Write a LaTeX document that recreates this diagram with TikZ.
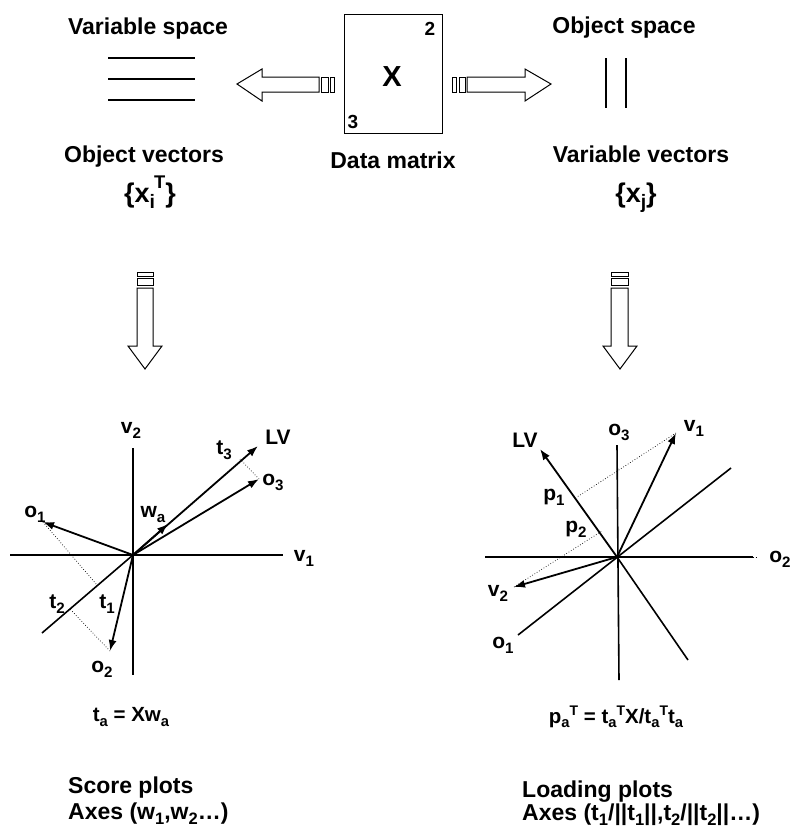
\documentclass[tikz,border=0pt]{standalone}
\usepackage{fontspec}
\setmainfont{Liberation Sans}
\usetikzlibrary{arrows.meta}
\newcommand\lo[1]{\raisebox{-0.45ex}{\scalebox{0.72}{#1}}}
\newcommand\hi[1]{\raisebox{0.7ex}{\scalebox{0.68}{#1}}}
\begin{document}
\begin{tikzpicture}[x=1pt,y=-1pt,
  head/.style={font=\fontsize{23}{27}\selectfont\bfseries},
  lab/.style={font=\fontsize{21}{24}\selectfont\bfseries, inner sep=0pt},
  formula/.style={font=\fontsize{20.5}{24}\selectfont\bfseries, inner sep=0pt},
  axis/.style={line width=1.6pt},
  vec/.style={line width=1.8pt, -{Latex[length=11pt,width=8pt]}},
  proj/.style={line width=0.7pt, dotted},
  blockarrow/.style={line width=1pt, fill=white},
  thin line/.style={line width=1.6pt}]
\useasboundingbox (0,0) rectangle (790,828);

% ---------- top row ----------
\node[head, anchor=base] (vs) at (148,34) {Variable space};
\node[head, anchor=base] (os) at (624,33) {Object space};
\node[head, anchor=base] (ov) at (144,162) {Object vectors};
\node[head, anchor=base] (vv) at (641,162) {Variable vectors};
\node[font=\fontsize{27}{30}\selectfont\bfseries, anchor=base] (xi) at (150,202) {\{x\lo{i}\hspace{-1pt}\raisebox{0.95ex}{\scalebox{0.68}{T}}\}};
\node[font=\fontsize{27}{30}\selectfont\bfseries, anchor=base] (xj) at (636,202) {\{x\lo{j}\}};

\draw[thin line] (108,58) -- (195,58) (108,79) -- (195,79) (108,100) -- (195,100);
\draw[thin line] (606,58) -- (606,108) (626,58) -- (626,108);

% data matrix
\node[draw, line width=1.3pt, minimum width=98pt, minimum height=119pt, anchor=north west, inner sep=0pt] (box) at (344,14) {};
\node[font=\fontsize{29}{32}\selectfont\bfseries] (X) at (392,77) {X};
\node[font=\fontsize{19}{20}\selectfont\bfseries, inner sep=0pt] (n2) at (430,29) {2};
\node[font=\fontsize{19}{20}\selectfont\bfseries, inner sep=0pt] (n3) at (353,122) {3};
\node[head, anchor=base] (dm) at (393,168) {Data matrix};

% left block arrow
\draw[blockarrow] (237,84) -- (262,69) -- (262,77) -- (319,77) -- (319,92) -- (262,92) -- (262,101) -- cycle;
\draw[blockarrow] (321,77) rectangle (328,92);
\draw[blockarrow] (330,77) rectangle (334,92);
% right block arrow
\draw[blockarrow] (551,84) -- (525,69) -- (525,77) -- (467,77) -- (467,92) -- (525,92) -- (525,101) -- cycle;
\draw[blockarrow] (459,77) rectangle (465,92);
\draw[blockarrow] (452,77) rectangle (456,92);

% down block arrows
\draw[blockarrow] (145,369) -- (128,346) -- (137,346) -- (137,288) -- (153,288) -- (153,346) -- (162,346) -- cycle;
\draw[blockarrow] (137,278) rectangle (153,285);
\draw[blockarrow] (137,272) rectangle (153,276);
\draw[blockarrow] (620,369) -- (603,346) -- (611,346) -- (611,288) -- (628,288) -- (628,346) -- (637,346) -- cycle;
\draw[blockarrow] (611,278) rectangle (628,285);
\draw[blockarrow] (611,272) rectangle (628,276);

% ---------- score plot ----------
\coordinate (O) at (133,555);
\coordinate (ax1a) at (10,555);  \coordinate (ax1b) at (283,555);
\coordinate (ax2a) at (133,448); \coordinate (ax2b) at (133,675);
\coordinate (lvlow) at (42,633); \coordinate (lvtip) at (258,446);
\coordinate (o1) at (43,522);
\coordinate (wa) at (168,524);
\coordinate (o3) at (259,479);
\coordinate (o2) at (110,651);
\coordinate (pr1) at (97,585);
\coordinate (pr2) at (70,609);
\coordinate (pr3) at (240,459);

\draw[axis] (ax1a) -- (ax1b);
\draw[axis] (ax2a) -- (ax2b);
\draw[axis] (lvlow) -- (O);
\draw[vec] (O) -- (lvtip);
\draw[vec] (O) -- (o1);
\draw[vec] (O) -- (wa);
\draw[vec] (O) -- (o3);
\draw[vec] (O) -- (o2);
\draw[proj] (o1) -- (pr1);
\draw[proj] (o2) -- (pr2);
\draw[proj] (o3) -- (pr3);

\node[lab] (lv2) at (131,430) {v\lo{2}};
\node[lab] (lv1) at (304,558) {v\lo{1}};
\node[lab] (lLV) at (278,437) {LV};
\node[lab] (lt3) at (224,450) {t\lo{3}};
\node[lab] (lo3) at (273,482) {o\lo{3}};
\node[lab] (lo1) at (35,514) {o\lo{1}};
\node[lab] (lwa) at (153,515) {w\lo{a}};
\node[lab] (lt2) at (57,604) {t\lo{2}};
\node[lab] (lt1) at (107,604) {t\lo{1}};
\node[lab] (lo2) at (102,669) {o\lo{2}};

\node[formula] (f1) at (131,717) {t\lo{a} = Xw\lo{a}};
\node[head, anchor=base west, inner sep=0pt] (sp) at (68,793) {Score plots};
\node[head, anchor=base west, inner sep=0pt] (sa) at (68,819) {Axes (w\lo{1},w\lo{2}…)};

% ---------- loading plot ----------
\coordinate (P) at (617,557);
\coordinate (bx1a) at (485,557); \coordinate (bx1b) at (753,557); \coordinate (bx1c) at (757,557);
\coordinate (bx2a) at (617,445); \coordinate (bx2b) at (619,680);
\coordinate (bo1a) at (518,635); \coordinate (bo1b) at (731,468);
\coordinate (blvlow) at (688,660); \coordinate (blvtip) at (540,449);
\coordinate (v1) at (676,433);
\coordinate (v2) at (514,587);
\coordinate (pp1) at (577,497);
\coordinate (pp2) at (602,531);

\draw[axis] (bx1a) -- (bx1b);
\draw[proj] (bx1b) -- (bx1c);
\draw[axis] (bx2a) -- (bx2b);
\draw[axis] (bo1a) -- (bo1b);
\draw[axis] (blvlow) -- (P);
\draw[vec] (P) -- (blvtip);
\draw[vec] (P) -- (v1);
\draw[vec] (P) -- (v2);
\draw[proj] (v1) -- (pp1);
\draw[proj] (v2) -- (pp2);

\node[lab] (ro3) at (619,432) {o\lo{3}};
\node[lab] (rv1) at (694,428) {v\lo{1}};
\node[lab] (rLV) at (525,440) {LV};
\node[lab] (rp1) at (554,497) {p\lo{1}};
\node[lab] (rp2) at (576,529) {p\lo{2}};
\node[lab] (ro2) at (780,559) {o\lo{2}};
\node[lab] (rv2) at (498,593) {v\lo{2}};
\node[lab] (ro1) at (503,645) {o\lo{1}};

\node[formula] (f2) at (616,717) {p\lo{a}\hi{T} = t\lo{a}\hi{T}X/t\lo{a}\hi{T}t\lo{a}};
\node[head, anchor=base west, inner sep=0pt] (lp) at (522,797) {Loading plots};
\node[head, anchor=base west, inner sep=0pt] (la) at (522,820) {Axes (t\lo{1}/||t\lo{1}||,t\lo{2}/||t\lo{2}||…)};
\end{tikzpicture}
\end{document}
